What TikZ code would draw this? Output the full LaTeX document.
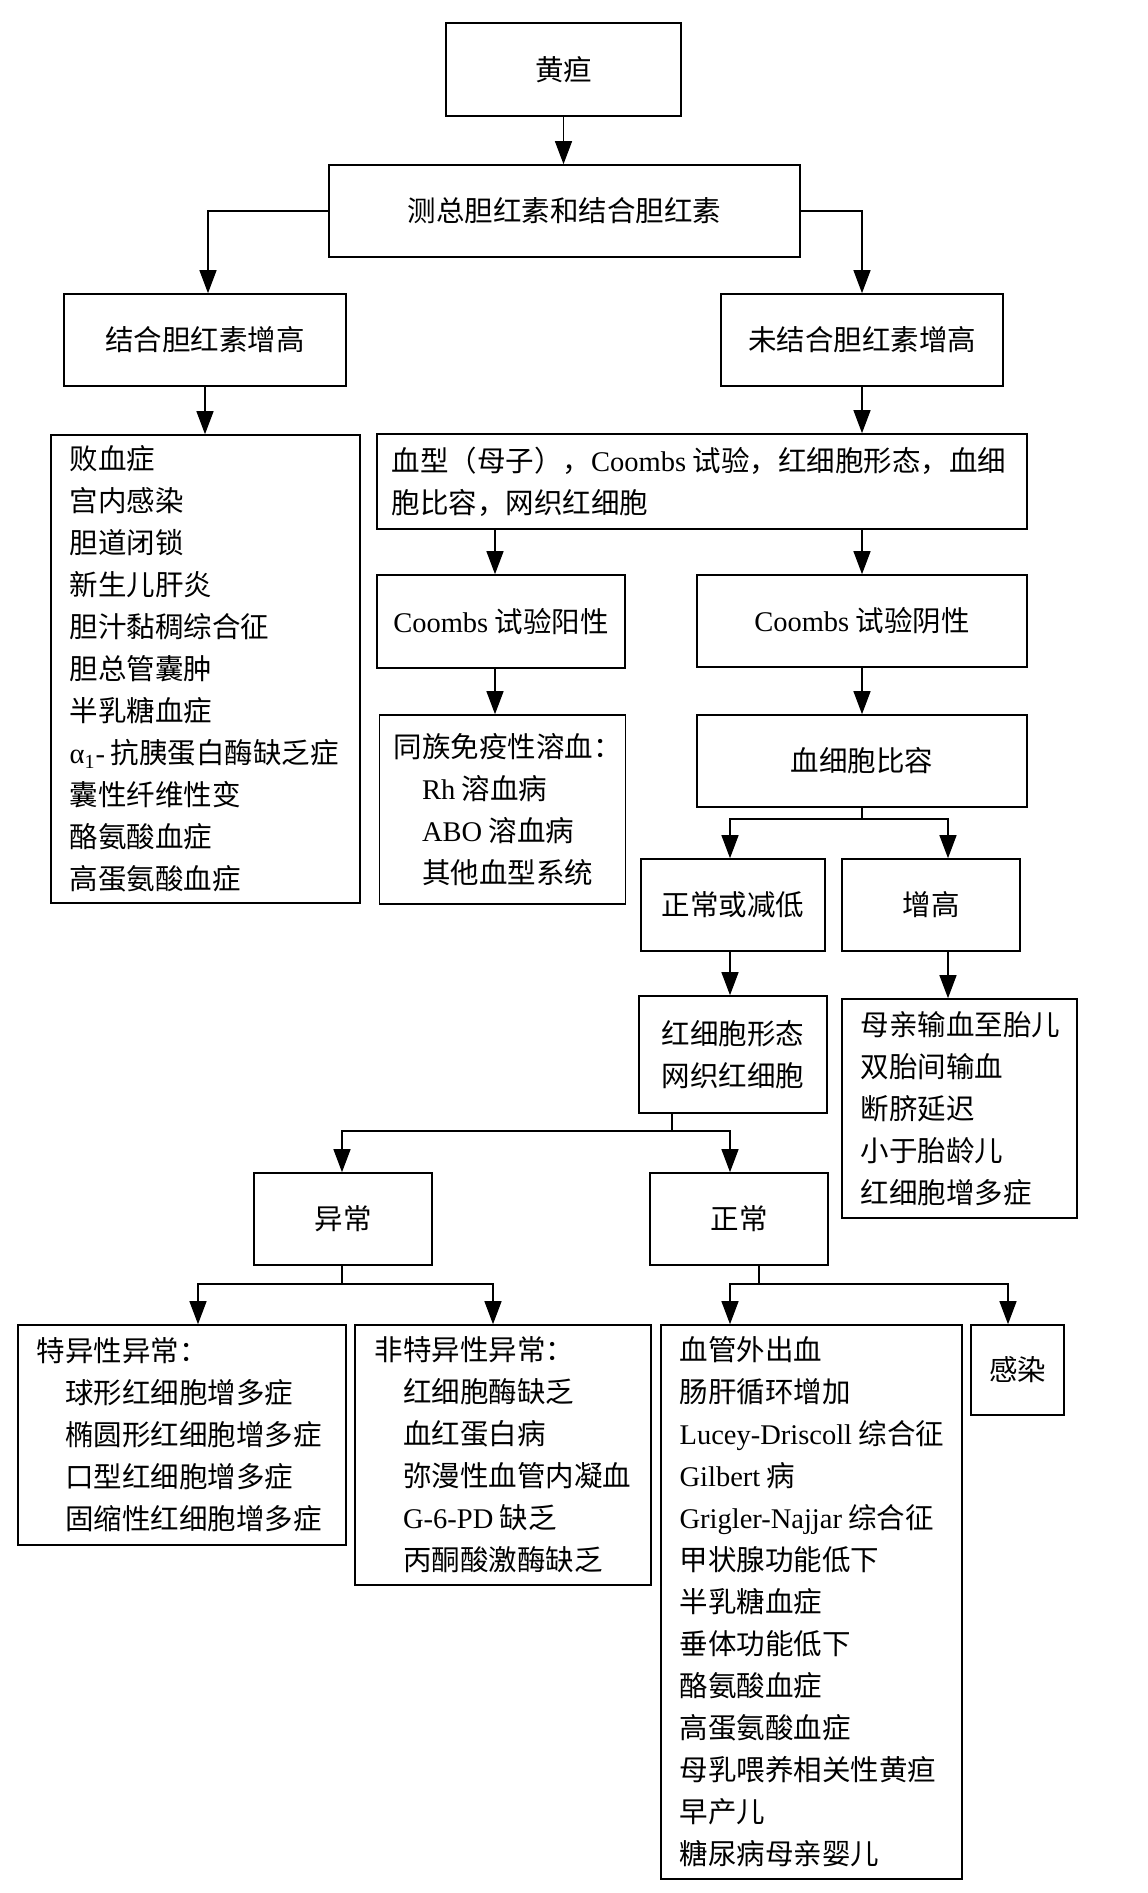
\documentclass[tikz,border=0pt]{standalone}
\usepackage{fontspec}
\setmainfont{Liberation Serif}
\newfontfamily\cjk{Noto Sans CJK SC}
\newcommand\lat[1]{{\rmfamily #1}}
\usetikzlibrary{arrows.meta}
\begin{document}
\begin{tikzpicture}[x=0.5pt, y=-0.5pt,
  box/.style={draw, line width=0.8pt, inner sep=0pt, align=center},
  txt/.style={font=\cjk\fontsize{14.25pt}{21pt}\selectfont},
  lst/.style={txt, anchor=west, align=left, inner sep=0pt},
  arr/.style={line width=0.6pt, -{Triangle[length=11.5pt,width=8.5pt]}},
  ln/.style={line width=0.6pt}]
\useasboundingbox (0,0) rectangle (1147,1893);

% boxes
\node[box, txt, minimum width=117.5pt, minimum height=46.5pt] (jd) at (563.5,69.5) {黄疸};
\node[box, txt, minimum width=235.5pt, minimum height=46pt] (ce) at (564.5,211) {测总胆红素和结合胆红素};
\node[box, txt, minimum width=141pt, minimum height=46pt] (jh) at (205,340) {结合胆红素增高};
\node[box, txt, minimum width=141pt, minimum height=46pt] (wj) at (862,340) {未结合胆红素增高};
\node[box, minimum width=154.5pt, minimum height=234pt] (L1) at (205.5,669) {};
\node[lst] (L1t) at ([xshift=9.5pt]L1.west) {败血症\\宫内感染\\胆道闭锁\\新生儿肝炎\\胆汁黏稠综合征\\胆总管囊肿\\半乳糖血症\\\lat{α\textsubscript{1}-}\hspace{3pt}抗胰蛋白酶缺乏症\\囊性纤维性变\\酪氨酸血症\\高蛋氨酸血症};
\node[box, minimum width=325pt, minimum height=47.5pt] (xx) at (702,481.5) {};
\node[lst] (xxt) at ([xshift=7.5pt]xx.west) {血型（母子），\lat{Coombs} 试验，红细胞形态，血细\\胞比容，网织红细胞};
\node[box, txt, minimum width=124pt, minimum height=46.5pt] (cp) at (501,621.5) {\lat{Coombs} 试验阳性};
\node[box, txt, minimum width=165pt, minimum height=46pt] (cn) at (862,621) {\lat{Coombs} 试验阴性};
\node[box, minimum width=123pt, minimum height=94.5pt] (tz) at (502.5,809.5) {};
\node[lst] (tzt) at ([xshift=7.25pt]tz.west) {同族免疫性溶血：\\\hspace*{1em}\lat{Rh} 溶血病\\\hspace*{1em}\lat{ABO} 溶血病\\\hspace*{1em}其他血型系统};
\node[box, txt, minimum width=165pt, minimum height=46pt] (hx) at (862,761) {血细胞比容};
\node[box, txt, minimum width=92pt, minimum height=46pt] (zj) at (733,905) {正常或减低};
\node[box, txt, minimum width=89pt, minimum height=46pt] (zg) at (931,905) {增高};
\node[box, txt, minimum width=94pt, minimum height=58.5pt] (hxt) at (733,1054.5) {红细胞形态\\网织红细胞};
\node[box, minimum width=117.5pt, minimum height=109.5pt] (zgl) at (959.5,1108.5) {};
\node[lst] (zglt) at ([xshift=9.5pt]zgl.west) {母亲输血至胎儿\\双胎间输血\\断脐延迟\\小于胎龄儿\\红细胞增多症};
\node[box, txt, minimum width=89pt, minimum height=46pt] (yc) at (343,1219) {异常};
\node[box, txt, minimum width=89pt, minimum height=46pt] (zc) at (739,1219) {正常};
\node[box, minimum width=164pt, minimum height=110pt] (ty) at (182,1435) {};
\node[lst] (tyt) at ([xshift=9.5pt]ty.west) {特异性异常：\\\hspace*{1em}球形红细胞增多症\\\hspace*{1em}椭圆形红细胞增多症\\\hspace*{1em}口型红细胞增多症\\\hspace*{1em}固缩性红细胞增多症};
\node[box, minimum width=148pt, minimum height=130pt] (fty) at (503,1455) {};
\node[lst] (ftyt) at ([xshift=10pt]fty.west) {非特异性异常：\\\hspace*{1em}红细胞酶缺乏\\\hspace*{1em}血红蛋白病\\\hspace*{1em}弥漫性血管内凝血\\\hspace*{1em}\lat{G-6-PD} 缺乏\\\hspace*{1em}丙酮酸激酶缺乏};
\node[box, minimum width=150.5pt, minimum height=277pt] (zl) at (811.5,1602) {};
\node[lst] (zlt) at ([xshift=9.5pt]zl.west) {血管外出血\\肠肝循环增加\\\lat{Lucey-Driscoll} 综合征\\\lat{Gilbert} 病\\\lat{Grigler-Najjar} 综合征\\甲状腺功能低下\\半乳糖血症\\垂体功能低下\\酪氨酸血症\\高蛋氨酸血症\\母乳喂养相关性黄疸\\早产儿\\糖尿病母亲婴儿};
\node[box, txt, minimum width=46.5pt, minimum height=45pt] (gr) at (1017.5,1370) {感染};

% helper x positions
\coordinate (c1) at (208,0);
\coordinate (c2) at (495,0);
\coordinate (c3) at (730,0);
\coordinate (c4) at (948,0);
\coordinate (c5) at (672,0);
\coordinate (c6) at (342,0);
\coordinate (c7) at (198,0);
\coordinate (c8) at (493,0);
\coordinate (c9) at (759,0);
\coordinate (c10) at (1008,0);
\coordinate (b1) at (862,819);
\coordinate (b2) at (672,1131);
\coordinate (b3) at (342,1284);
\coordinate (b4) at (759,1284);

% connectors
\draw[arr] (jd.south) -- (jd.south |- ce.north);
\draw[arr] (ce.west) -| (c1 |- jh.north);
\draw[arr] (ce.east) -| (wj.north);
\draw[arr] (jh.south) -- (jh.south |- L1.north);
\draw[arr] (wj.south) -- (wj.south |- xx.north);
\draw[arr] (xx.south -| c2) -- (cp.north -| c2);
\draw[arr] (xx.south -| cn.north) -- (cn.north);
\draw[arr] (cp.south -| c2) -- (tz.north -| c2);
\draw[arr] (cn.south) -- (hx.north);
\draw[ln] (hx.south) -- (b1);
\draw[arr] (b1) -| (c3 |- zj.north);
\draw[arr] (b1) -| (c4 |- zg.north);
\draw[arr] (zj.south -| c3) -- (hxt.north -| c3);
\draw[arr] (zg.south -| c4) -- (zgl.north -| c4);
\draw[ln] (hxt.south -| c5) -- (b2);
\draw[arr] (b2) -| (c6 |- yc.north);
\draw[arr] (b2) -| (c3 |- zc.north);
\draw[ln] (yc.south -| c6) -- (b3);
\draw[arr] (b3) -| (c7 |- ty.north);
\draw[arr] (b3) -| (c8 |- fty.north);
\draw[ln] (zc.south -| c9) -- (b4);
\draw[arr] (b4) -| (c3 |- zl.north);
\draw[arr] (b4) -| (c10 |- gr.north);
\end{tikzpicture}
\end{document}
